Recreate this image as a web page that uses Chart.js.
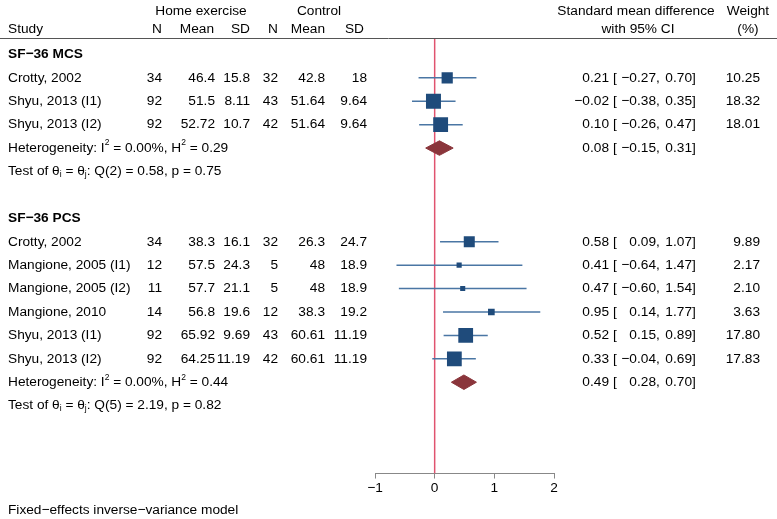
<!DOCTYPE html>
<html>
<head>
<meta charset="utf-8">
<script src="https://cdn.jsdelivr.net/npm/chart.js@4/dist/chart.umd.min.js"></script>
<style>
  body { margin: 0; background: #fff; }
  canvas { display: block; }
</style>
</head>
<body>
<canvas id="forest" width="777" height="519"></canvas>
<script>
// study rows (row index counts from the first group title)
const studies = ['Crotty, 2002', 'Shyu, 2013 (I1)', 'Shyu, 2013 (I2)',
  'Crotty, 2002', 'Mangione, 2005 (I1)', 'Mangione, 2005 (I2)', 'Mangione, 2010',
  'Shyu, 2013 (I1)', 'Shyu, 2013 (I2)'];
const studyRows = [1, 2, 3, 8, 9, 10, 11, 12, 13];
const homeN = ['34', '92', '92', '34', '12', '11', '14', '92', '92'];
const homeMean = ['46.4', '51.5', '52.72', '38.3', '57.5', '57.7', '56.8', '65.92', '64.25'];
const homeSD = ['15.8', '8.11', '10.7', '16.1', '24.3', '21.1', '19.6', '9.69', '11.19'];
const ctrlN = ['32', '43', '42', '32', '5', '5', '12', '43', '42'];
const ctrlMean = ['42.8', '51.64', '51.64', '26.3', '48', '48', '38.3', '60.61', '60.61'];
const ctrlSD = ['18', '9.64', '9.64', '24.7', '18.9', '18.9', '19.2', '11.19', '11.19'];
const smd = [0.21, -0.02, 0.10, 0.58, 0.41, 0.47, 0.95, 0.52, 0.33];
const lower = [-0.27, -0.38, -0.26, 0.09, -0.64, -0.60, 0.14, 0.15, -0.04];
const upper = [0.70, 0.35, 0.47, 1.07, 1.47, 1.54, 1.77, 0.89, 0.69];
const weights = ['10.25', '18.32', '18.01', '9.89', '2.17', '2.10', '3.63', '17.80', '17.83'];

// groups
const groupNames = ['SF\u221236 MCS', 'SF\u221236 PCS'];
const groupRows = [0, 7];
const overallRows = [4, 14];
const overallEst = [0.08, 0.49];
const overallLow = [-0.15, 0.28];
const overallHigh = [0.31, 0.70];
const hetH2 = ['0.29', '0.44'];
const testRows = [5, 15];
const testQ = ['Q(2) = 0.58, p = 0.75', 'Q(5) = 2.19, p = 0.82'];

const xTicks = [-1, 0, 1, 2];

const FONT = '"Liberation Sans", Arial, Helvetica, sans-serif';
const FS = 13.7;

const fmt = v => {
  const s = v.toFixed(2);
  return v < 0 ? '\u2212' + s.slice(1) : s;
};

const datasets = [];

// line of no effect
datasets.push({
  data: [{ x: 0, y: -0.7 }, { x: 0, y: 17.9 }],
  showLine: true, borderColor: '#e0536f', borderWidth: 1.5,
  pointRadius: 0, order: 10
});

// confidence intervals
studies.forEach((s, i) => {
  datasets.push({
    data: [{ x: lower[i], y: studyRows[i] }, { x: upper[i], y: studyRows[i] }],
    showLine: true, borderColor: '#4a76a4', borderWidth: 1.5,
    pointRadius: 0, order: 5
  });
});

// study markers, area follows weight
datasets.push({
  data: smd.map((v, i) => ({ x: v, y: studyRows[i] })),
  pointStyle: 'rect',
  pointRadius: weights.map(w => 3.5 * Math.sqrt(parseFloat(w)) / Math.SQRT2),
  pointHoverRadius: weights.map(w => 3.5 * Math.sqrt(parseFloat(w)) / Math.SQRT2),
  backgroundColor: '#1f4b7b', borderColor: '#1f4b7b', borderWidth: 0,
  order: 1
});

// overall diamonds
overallRows.forEach((r, g) => {
  datasets.push({
    data: [
      { x: overallLow[g], y: r }, { x: overallEst[g], y: r - 0.31 },
      { x: overallHigh[g], y: r }, { x: overallEst[g], y: r + 0.31 },
      { x: overallLow[g], y: r }
    ],
    showLine: true, fill: 'shape', tension: 0,
    backgroundColor: '#8a353b', borderColor: '#8a353b', borderWidth: 1,
    pointRadius: 0, order: 1
  });
});

function txt(ctx, s, x, y, align, bold, size) {
  ctx.font = (bold ? 'bold ' : '') + (size || FS) + 'px ' + FONT;
  ctx.textAlign = align || 'left';
  ctx.fillText(s, x, y);
  return ctx.measureText(s).width;
}

// pieces: [text, 'n' | 'sup' | 'sub']
function rich(ctx, pieces, x, y) {
  ctx.textAlign = 'left';
  let cx = x;
  pieces.forEach(([s, kind]) => {
    let size = FS, dy = 0;
    if (kind === 'sup') { size = 8.5; dy = -5; }
    if (kind === 'sub') { size = 8.5; dy = 3; }
    ctx.font = size + 'px ' + FONT;
    ctx.fillText(s, cx, y + dy);
    cx += ctx.measureText(s).width;
  });
}

const tablePlugin = {
  id: 'table',
  afterDraw(chart) {
    const ctx = chart.ctx;
    const yS = chart.scales.y;
    const area = chart.chartArea;
    ctx.save();
    ctx.fillStyle = '#000';
    ctx.textBaseline = 'middle';

    // header
    txt(ctx, 'Home exercise', 201, 11, 'center');
    txt(ctx, 'Control', 319, 11, 'center');
    txt(ctx, 'Standard mean difference', 636, 11, 'center');
    txt(ctx, 'Weight', 748, 11, 'center');
    txt(ctx, 'Study', 8, 29);
    txt(ctx, 'N', 162, 29, 'right');
    txt(ctx, 'Mean', 214, 29, 'right');
    txt(ctx, 'SD', 250, 29, 'right');
    txt(ctx, 'N', 278, 29, 'right');
    txt(ctx, 'Mean', 325, 29, 'right');
    txt(ctx, 'SD', 364, 29, 'right');
    txt(ctx, 'with 95% CI', 638, 29, 'center');
    txt(ctx, '(%)', 748, 29, 'center');

    ctx.strokeStyle = '#555';
    ctx.lineWidth = 1;
    ctx.beginPath();
    ctx.moveTo(0, Math.round(area.top) + 0.5);
    ctx.lineTo(777, Math.round(area.top) + 0.5);
    ctx.stroke();

    groupRows.forEach((r, g) => txt(ctx, groupNames[g], 8, yS.getPixelForValue(r), 'left', true));

    const ci = (est, lo, hi, y) => {
      txt(ctx, fmt(est), 609, y, 'right');
      txt(ctx, '[', 613, y, 'left');
      txt(ctx, fmt(lo), 656, y, 'right');
      txt(ctx, ',', 656, y, 'left');
      txt(ctx, fmt(hi), 692, y, 'right');
      txt(ctx, ']', 692, y, 'left');
    };

    studies.forEach((s, i) => {
      const y = yS.getPixelForValue(studyRows[i]);
      txt(ctx, s, 8, y);
      txt(ctx, homeN[i], 162, y, 'right');
      txt(ctx, homeMean[i], 215, y, 'right');
      txt(ctx, homeSD[i], 250, y, 'right');
      txt(ctx, ctrlN[i], 278, y, 'right');
      txt(ctx, ctrlMean[i], 325, y, 'right');
      txt(ctx, ctrlSD[i], 367, y, 'right');
      ci(smd[i], lower[i], upper[i], y);
      txt(ctx, weights[i], 760, y, 'right');
    });

    overallRows.forEach((r, g) => {
      const y = yS.getPixelForValue(r);
      rich(ctx, [['Heterogeneity: I', 'n'], ['2', 'sup'], [' = 0.00%, H', 'n'], ['2', 'sup'], [' = ' + hetH2[g], 'n']], 8, y);
      ci(overallEst[g], overallLow[g], overallHigh[g], y);
    });

    testRows.forEach((r, g) => {
      const y = yS.getPixelForValue(r);
      rich(ctx, [['Test of \u03b8', 'n'], ['i', 'sub'], [' = \u03b8', 'n'], ['j', 'sub'], [': ' + testQ[g], 'n']], 8, y);
    });

    txt(ctx, 'Fixed\u2212effects inverse\u2212variance model', 8, 510);
    ctx.restore();
  }
};

new Chart(document.getElementById('forest'), {
  type: 'scatter',
  data: { datasets },
  options: {
    responsive: false,
    animation: false,
    events: [],
    layout: { padding: { left: 375, right: 223, top: 38, bottom: 22 } },
    plugins: { legend: { display: false }, tooltip: { enabled: false } },
    scales: {
      x: {
        type: 'linear', min: -1, max: 2,
        afterBuildTicks: axis => { axis.ticks = xTicks.map(v => ({ value: v })); },
        grid: { drawOnChartArea: false, drawTicks: true, tickLength: 5, color: '#888' },
        border: { display: true, color: '#888', width: 1 },
        ticks: {
          color: '#000', padding: 1, maxRotation: 0,
          font: { family: FONT, size: FS },
          callback: v => String(v).replace('-', '\u2212')
        }
      },
      y: { type: 'linear', min: -0.7, max: 17.9, reverse: true, display: false }
    }
  },
  plugins: [tablePlugin]
});
</script>
</body>
</html>
